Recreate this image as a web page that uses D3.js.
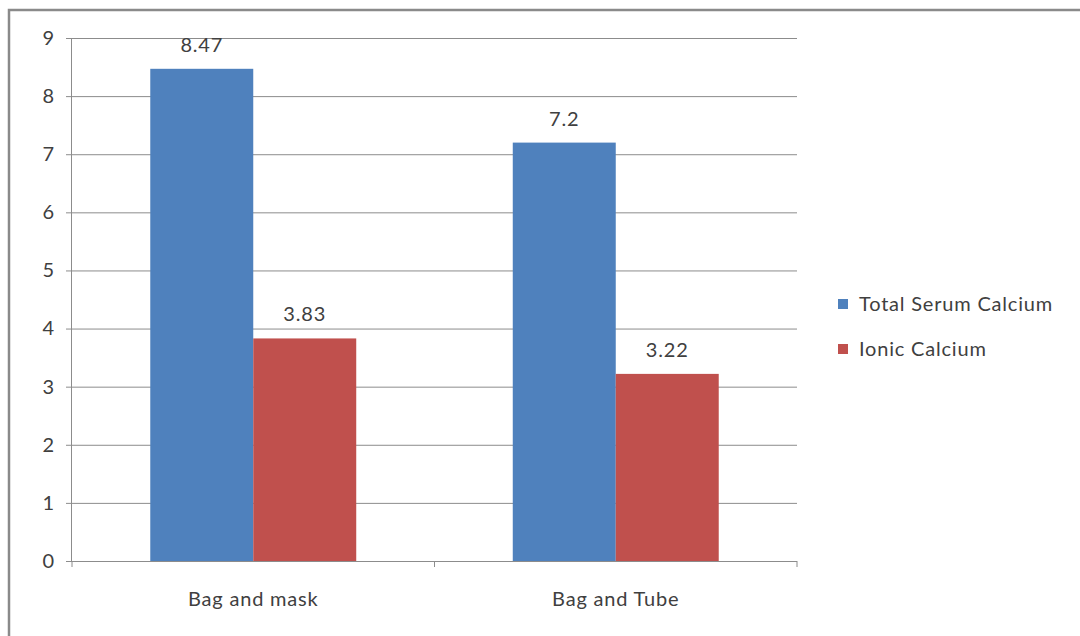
<!DOCTYPE html>
<html><head><meta charset="utf-8">
<script src="https://cdn.jsdelivr.net/npm/d3@7"></script>
<style>body{margin:0;background:#fff}svg{display:block}</style>
</head><body>
<script>
const categories = ["Bag and mask", "Bag and Tube"];
const seriesNames = ["Total Serum Calcium", "Ionic Calcium"];
const totalSerum = [8.47, 7.2];
const ionic = [3.83, 3.22];
const valueLabels = [["8.47", "7.2"], ["3.83", "3.22"]];
const yTicks = [0,1,2,3,4,5,6,7,8,9];
const colors = ["#4F81BD", "#C0504D"];

const W = 1080, H = 636;
const svg = d3.select("body").append("svg").attr("width", W).attr("height", H);
svg.append("rect").attr("width", W).attr("height", H).attr("fill", "#fff");
// outer border
svg.append("path").attr("d", `M9,${H+5} L9,10 L${W+5},10`).attr("fill","none").attr("stroke","#8a8a8a").attr("stroke-width",2.5);

const font = "Lato, 'Open Sans', sans-serif";
const txt = sel => sel.attr("font-family", font).attr("font-size", 20).attr("letter-spacing", 0.8).attr("fill", "#404040");
const L = 72, R = 797, T = 38, B = 561;
const y = d3.scaleLinear().domain([0, 9]).range([B, T]);
const x0 = d3.scaleBand().domain(categories).range([L, R]).paddingInner(0).paddingOuter(0);
const inner = d3.scaleBand().domain(seriesNames).range([0, x0.bandwidth()]).paddingInner(0).paddingOuter(0.76);

// gridlines
svg.append("g").selectAll("line").data(yTicks.filter(d => d > 0)).join("line")
  .attr("x1", L).attr("x2", R).attr("y1", d => y(d) + 0.5).attr("y2", d => y(d) + 0.5)
  .attr("stroke", "#8c8c8c").attr("stroke-width", 1);

// y axis
const ya = svg.append("g").attr("transform", `translate(${L},0)`)
  .call(d3.axisLeft(y).tickValues(yTicks).tickSize(6).tickPadding(12).tickFormat(d3.format("d")));
ya.select(".domain").attr("stroke", "#8c8c8c").attr("d", `M-0.5,${B}V${T}`);
ya.selectAll(".tick line").attr("stroke", "#8c8c8c");
ya.selectAll("text").call(txt).attr("letter-spacing", 0);

// bars
const data = [totalSerum, ionic];
data.forEach((vals, si) => {
  svg.append("g").selectAll("rect").data(vals).join("rect")
    .attr("x", (d, i) => x0(categories[i]) + inner(seriesNames[si]))
    .attr("width", inner.bandwidth())
    .attr("y", d => y(d)).attr("height", d => B - y(d))
    .attr("fill", colors[si]);
  svg.append("g").selectAll("text").data(vals).join("text")
    .attr("x", (d, i) => x0(categories[i]) + inner(seriesNames[si]) + inner.bandwidth()/2)
    .attr("y", d => y(d) - 17)
    .attr("text-anchor", "middle")
    .call(txt)
    .text((d, i) => valueLabels[si][i]);
});

// x axis
const xa = svg.append("g").attr("transform", `translate(0,${B})`)
  .call(d3.axisBottom(x0).tickSize(0).tickPadding(0));
xa.select(".domain").attr("stroke", "#8c8c8c").attr("d", `M${L},0.5H${R}`);
xa.selectAll("text").call(txt).attr("y", 45).attr("dy", 0);
svg.append("g").selectAll("line").data([L, L + x0.bandwidth(), R]).join("line")
  .attr("x1", d => d).attr("x2", d => d).attr("y1", B).attr("y2", B + 6)
  .attr("stroke", "#8c8c8c");

// legend
const lg = svg.append("g").selectAll("g").data(seriesNames).join("g")
  .attr("transform", (d, i) => `translate(838,${304 + i * 45})`);
lg.append("rect").attr("x", 0).attr("y", -5).attr("width", 10).attr("height", 10).attr("fill", (d, i) => colors[i]);
lg.append("text").attr("x", 21).attr("y", 0).attr("dy", "0.35em").call(txt).text(d => d);
</script>
</body></html>
